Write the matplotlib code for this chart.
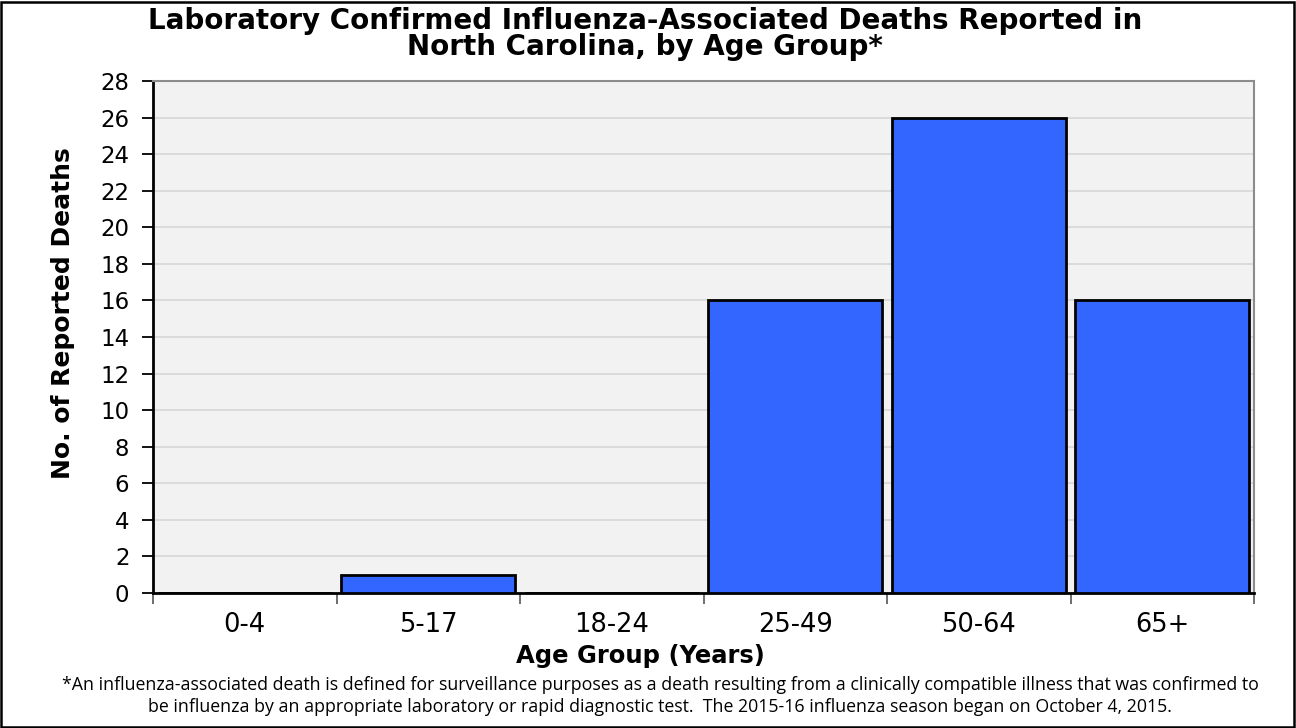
import matplotlib
matplotlib.use("Agg")
import matplotlib.pyplot as plt
from matplotlib.patches import Rectangle
import numpy as np

categories = ["0-4", "5-17", "18-24", "25-49", "50-64", "65+"]
deaths = [0, 1, 0, 16, 26, 16]
yticks = list(range(0, 29, 2))

plt.rcParams['font.family'] = ['DejaVu Sans']

W, H = 1296, 728
fig = plt.figure(figsize=(W / 100, H / 100), dpi=100)
L, R, T, B = 153, 1254, 81, 593
ax = fig.add_axes([L / W, 1 - B / H, (R - L) / W, (B - T) / H])

x = np.arange(len(categories))
ax.bar(x, deaths, width=0.95, color="#3366FF", edgecolor="black", linewidth=2.0, zorder=3)
ax.set_facecolor("#F2F2F2")
ax.set_xlim(-0.5, len(categories) - 0.5)
ax.set_ylim(0, 28)
ax.set_yticks(yticks)
ax.tick_params(axis='y', labelsize=16.5, length=8, width=1.3, direction='out', pad=9)
ax.yaxis.grid(True, color="#D9D9D9", linewidth=1.3, zorder=0)
ax.set_axisbelow(True)

ax.set_xticks(np.arange(-0.5, len(categories), 1.0))
ax.set_xticklabels([])
ax.set_xticks(x, minor=True)
ax.set_xticklabels(categories, minor=True)
ax.tick_params(axis='x', which='major', length=8, width=1.2, color='#555555', direction='out')
ax.tick_params(axis='x', which='minor', length=0, labelsize=18.5, pad=14)

for s in ['left', 'bottom']:
    ax.spines[s].set_linewidth(2.0)
    ax.spines[s].set_color('black')
for s in ['top', 'right']:
    ax.spines[s].set_linewidth(1.5)
    ax.spines[s].set_color('#8C8C8C')

fig.text(63 / W, 1 - 313 / H, "No. of Reported Deaths", rotation=90, ha='center', va='center',
         fontsize=18, fontweight='bold')
fig.text(640 / W, 1 - 656 / H, "Age Group (Years)", ha='center', va='center',
         fontsize=17.5, fontweight='bold')

fig.text(645 / W, 1 - 34 / H, "Laboratory Confirmed Influenza-Associated Deaths Reported in\nNorth Carolina, by Age Group*",
         ha='center', va='center', fontsize=20, fontweight='bold', linespacing=0.95)

fig.text(660 / W, 1 - 696 / H,
         "*An influenza-associated death is defined for surveillance purposes as a death resulting from a clinically compatible illness that was confirmed to\n"
         "be influenza by an appropriate laboratory or rapid diagnostic test.  The 2015-16 influenza season began on October 4, 2015.",
         ha='center', va='center', fontsize=12.8, linespacing=1.35, family=['Open Sans', 'DejaVu Sans'])

fig.patches.append(Rectangle((1 / W, 1 / H), (W - 3) / W, (H - 3) / H, transform=fig.transFigure,
                             fill=False, edgecolor='black', linewidth=1.8))

fig.savefig("out.png", dpi=100)
